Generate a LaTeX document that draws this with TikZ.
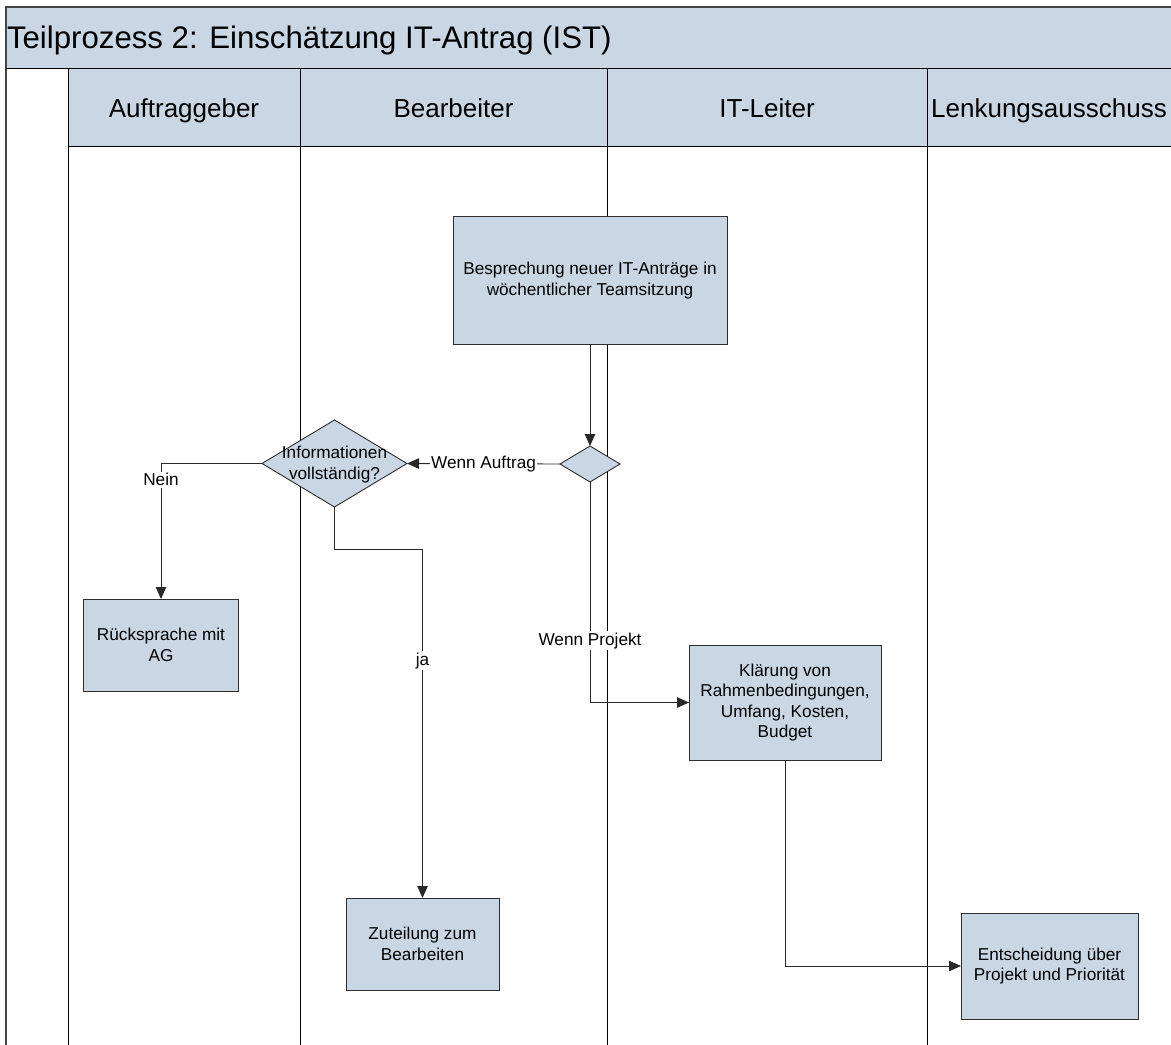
\documentclass[tikz,border=0pt]{standalone}
\usepackage{fontspec}
\setmainfont{Liberation Sans}
\usetikzlibrary{arrows.meta,shapes.geometric,calc}
\definecolor{lanefill}{RGB}{201,214,228}
\definecolor{edge}{RGB}{45,45,45}
\definecolor{wire}{RGB}{40,40,40}
\definecolor{frame}{RGB}{70,70,70}

\begin{document}
\begin{tikzpicture}[x=1bp,y=-1bp,
  every node/.style={inner sep=0pt, outer sep=0pt},
  task/.style={draw=edge, line width=0.9bp, fill=lanefill, align=center,
    font=\fontsize{17.2bp}{20.5bp}\selectfont},
  gate/.style={diamond, draw=edge, line width=0.9bp, fill=lanefill, inner sep=0pt},
  flow/.style={draw=wire, line width=0.9bp, -{Triangle[length=12bp,width=10.5bp]}},
  tag/.style={fill=white, font=\fontsize{17.2bp}{20bp}\selectfont, inner sep=1.5bp},
  lane/.style={draw=black, line width=1bp},
  head/.style={font=\fontsize{26bp}{30bp}\selectfont, anchor=base}
]
\useasboundingbox (0,0) rectangle (1171,1045);
\begin{scope}
\clip (0,0) rectangle (1171,1045);

% pool title band and lane header row
\fill[lanefill] (6,7) rectangle (1175,68);
\fill[lanefill] (68,68) rectangle (1175,146);
\draw[frame, line width=2bp] (6,1050) -- (6,7) -- (1175,7);
\draw[lane] (6,68) -- (1175,68);
\draw[lane] (68,146) -- (1175,146);
\foreach \lx in {68,300,607,927}
  \draw[lane] (\lx,68) -- (\lx,1050);

\node[anchor=base west, font=\fontsize{31.2bp}{34bp}\selectfont] (title) at (7,48.5)
  {Teilprozess 2: Einschätzung IT-Antrag (IST)};
\node[head] (hAG) at (184,117) {Auftraggeber};
\node[head] (hBB) at (453.5,117) {Bearbeiter};
\node[head] (hIT) at (767,117) {IT-Leiter};
\node[head] (hLA) at (1049,117) {Lenkungsausschuss};

% activities and decisions
\node[task, minimum width=274bp, minimum height=128bp] (besp) at (590,280.5)
  {Besprechung neuer IT-Anträge in\\wöchentlicher Teamsitzung};
\node[gate, minimum width=60bp, minimum height=36bp] (d1) at (590,464) {};
\node[gate, minimum width=145bp, minimum height=87bp] (info) at (334.5,463.5) {};
\node[align=center, font=\fontsize{17.2bp}{21bp}\selectfont] (infotext) at (334.5,465)
  {Informationen\\vollständig?};
\node[task, minimum width=155bp, minimum height=92bp] (rueck) at (161,645)
  {Rücksprache mit\\AG};
\node[task, minimum width=153bp, minimum height=92bp] (zut) at (422.5,944)
  {Zuteilung zum\\Bearbeiten};
\node[task, minimum width=192bp, minimum height=115bp] (klaer) at (785,702.5)
  {Klärung von\\Rahmenbedingungen,\\Umfang, Kosten,\\Budget};
\node[task, minimum width=177bp, minimum height=106bp] (entsch) at (1049.5,966)
  {Entscheidung über\\Projekt und Priorität};

% sequence flows
\draw[flow] (besp.south) -- (d1.north);
\draw[flow] (d1.west) -- node[tag] (lAuf) {Wenn Auftrag} (info.east);
\draw[flow] (info.west) -| node[tag, pos=0.56] (lNein) {Nein} (rueck.north);
\draw[flow] (info.south) -- ++(0,42) -| node[tag, pos=0.66] (lJa) {ja} (zut.north);
\draw[flow] (d1.south) |- node[tag, pos=0.36] (lProj) {Wenn Projekt} (klaer.west);
\draw[flow] (klaer.south) |- (entsch.west);
\end{scope}
\end{tikzpicture}
\end{document}
